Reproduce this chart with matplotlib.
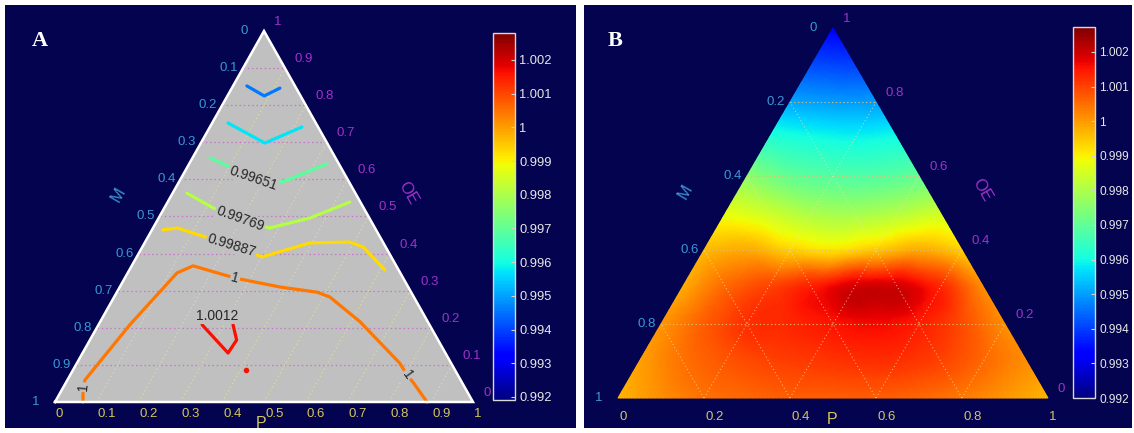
import numpy as np
import matplotlib.pyplot as plt
import matplotlib.tri as mtri
from matplotlib.colors import Normalize
from matplotlib.cm import ScalarMappable

plt.rcParams['font.family'] = ['Liberation Sans', 'DejaVu Sans']

NAVY = '#03034f'
P_COL = '#d2c65a'
M_COL = '#3c96d2'
OE_COL = '#a032c8'

# ---------------- panel A: contour lines ----------------
# each line is given as P and OE fractions along the curve
levels_a = [0.99415, 0.99533, 0.99651, 0.99769, 0.99887, 1.00005, 1.00123]
line_p = [
    [0.033, 0.088, 0.115],
    [0.038, 0.153, 0.220],
    [0.042, 0.108, 0.176, 0.247, 0.330],
    [0.034, 0.117, 0.198, 0.279, 0.362, 0.436],
    [0.026, 0.058, 0.130, 0.211, 0.300, 0.396, 0.490, 0.528, 0.611],
    [0.067, 0.056, 0.042, 0.075, 0.118, 0.147, 0.264, 0.383, 0.479, 0.516,
     0.622, 0.772, 0.806, 0.829, 0.890],
    [0.248, 0.348, 0.351, 0.322],
]
line_oe = [
    [0.852, 0.825, 0.846],
    [0.752, 0.698, 0.741],
    [0.658, 0.631, 0.604, 0.593, 0.642],
    [0.563, 0.523, 0.491, 0.469, 0.496, 0.539],
    [0.464, 0.469, 0.447, 0.423, 0.391, 0.429, 0.431, 0.418, 0.356],
    [0.000, 0.022, 0.059, 0.208, 0.348, 0.367, 0.334, 0.310, 0.296, 0.283,
     0.216, 0.105, 0.073, 0.054, 0.000],
    [0.208, 0.132, 0.167, 0.208],
]
# inline contour labels
label_text = ['0.99651', '0.99769', '0.99887', '1', '1', '1', '1.0012']
label_p = [0.172, 0.196, 0.211, 0.264, 0.047, 0.806, 0.272]
label_oe = [0.604, 0.493, 0.423, 0.334, 0.040, 0.073, 0.232]
label_rot = [-19, -20, -17, -15, 85, -55, 0]
# small closed contour (spot)
spot_p = [0.414]
spot_oe = [0.086]
spot_level = 1.00123

ticks_a = [0, 0.1, 0.2, 0.3, 0.4, 0.5, 0.6, 0.7, 0.8, 0.9, 1]
cbar_ticks = [0.992, 0.993, 0.994, 0.995, 0.996, 0.997, 0.998, 0.999, 1.0, 1.001, 1.002]
vmin_a, vmax_a = 0.99191, 1.0028

# ---------------- panel B: response surface on a ternary grid ----------------
grid_b = [0.0, 0.1, 0.2, 0.3, 0.4, 0.5, 0.6, 0.7, 0.8, 0.9, 1.0]
# row k -> OE = grid_b[k], entries for P = grid_b[0], grid_b[1], ...
field_rows = [
    [0.99970, 1.00013, 1.00045, 1.00056, 1.00067, 1.00067, 1.00067, 1.00056, 1.00035, 1.00003, 0.99970],
    [0.99992, 1.00045, 1.00077, 1.00099, 1.00110, 1.00120, 1.00120, 1.00099, 1.00056, 1.00013],
    [1.00003, 1.00067, 1.00120, 1.00131, 1.00152, 1.00163, 1.00142, 1.00088, 1.00013],
    [0.99981, 1.00056, 1.00099, 1.00142, 1.00195, 1.00195, 1.00131, 1.00013],
    [0.99960, 0.99981, 0.99938, 0.99917, 0.99949, 0.99981, 0.99938],
    [0.99874, 0.99842, 0.99799, 0.99789, 0.99810, 0.99842],
    [0.99756, 0.99703, 0.99682, 0.99682, 0.99703],
    [0.99628, 0.99607, 0.99596, 0.99607],
    [0.99510, 0.99500, 0.99500],
    [0.99414, 0.99403],
    [0.99328],
]
ticks_b = [0, 0.2, 0.4, 0.6, 0.8, 1]
vmin_b, vmax_b = 0.992, 1.00272


def tern_xy(p, oe):
    p = np.asarray(p, dtype=float)
    oe = np.asarray(oe, dtype=float)
    return p + oe / 2, oe


def frame_labels(ax, ticks, p_drop, title_pos):
    for v in ticks:
        s = f'{v:g}'
        ax.annotate(s, xy=(v, 0), xytext=(1, -p_drop), textcoords='offset pixels',
                    ha='left', va='center', color=P_COL, fontsize=9.5)
        m_off = -16 if v in (0, 1) else -5
        ax.annotate(s, xy=((1 - v) / 2, 1 - v), xytext=(m_off, 0), textcoords='offset pixels',
                    ha='right', va='center', color=M_COL, fontsize=9.5)
        ax.annotate(s, xy=(1 - v / 2, v), xytext=(10, 9), textcoords='offset pixels',
                    ha='left', va='center', color=OE_COL, fontsize=9.5)
    (px, py), (mx, my), (ox, oy) = title_pos
    ax.text(px, py, 'P', color=P_COL, fontsize=11.5, ha='center', va='center')
    ax.text(mx, my, 'M', color=M_COL, fontsize=12, ha='center', va='center', rotation=60)
    ax.text(ox, oy, 'OE', color=OE_COL, fontsize=12, ha='center', va='center', rotation=-60)


def bare(ax):
    ax.set_facecolor(NAVY)
    ax.set_xticks([])
    ax.set_yticks([])
    for s in ax.spines.values():
        s.set_visible(False)


def colorbar(fig, rect, norm, ticks, size):
    cax = fig.add_axes(rect)
    cb = fig.colorbar(ScalarMappable(norm=norm, cmap='jet'), cax=cax)
    cb.set_ticks(ticks)
    cb.set_ticklabels([f'{t:g}' for t in ticks])
    cb.outline.set_edgecolor('#d8d8d8')
    cb.outline.set_linewidth(1.0)
    cax.tick_params(colors='#d0d0d0', labelcolor='#e8e8e8', direction='in',
                    length=3, width=0.8, labelsize=size, pad=3)
    return cb


W, H = 1134, 433
fig = plt.figure(figsize=(W / 100, H / 100), dpi=100)
fig.patch.set_facecolor('white')

# ================= panel A =================
axA = fig.add_axes([5 / W, 5 / H, 571 / W, 423 / H])
bare(axA)
axA.set_xlim(-50 / 418, 521 / 418)
axA.set_ylim(-26 / 371, 397 / 371)
normA = Normalize(vmin_a, vmax_a)
# line colours as they appear in the printed figure (slightly warmer than the bar)
norm_lines = Normalize(0.9915, 1.0024)
cmap = plt.get_cmap('jet')

axA.fill([0, 1, 0.5], [0, 0, 1], color='#c0c0c0', zorder=1)
for v in ticks_a[1:-1]:
    axA.plot([v / 2, 1 - v / 2], [v, v], color='#c478c8', lw=0.9,
             ls=(0, (1.2, 2.2)), zorder=2)
    axA.plot([v, v + (1 - v) / 2], [0, 1 - v], color='#dcdca0', lw=0.8,
             ls=(0, (1.2, 2.5)), zorder=2)
axA.plot([0, 1, 0.5, 0], [0, 0, 1, 0], color='white', lw=1.8, zorder=5,
         solid_joinstyle='miter')

for lvl, ps, oes in zip(levels_a, line_p, line_oe):
    x, y = tern_xy(ps, oes)
    axA.plot(x, y, color=cmap(norm_lines(lvl)), lw=2.3, solid_capstyle='round',
             solid_joinstyle='round', zorder=3)
sx, sy = tern_xy(spot_p, spot_oe)
axA.plot(sx, sy, 'o', color=cmap(norm_lines(spot_level)), ms=4, mec='none', zorder=3)

for txt, p, oe, rot in zip(label_text, label_p, label_oe, label_rot):
    x, y = tern_xy(p, oe)
    axA.text(x, y, txt, rotation=rot, rotation_mode='anchor', ha='center', va='center',
             fontsize=10, color='#262626', zorder=4,
             bbox=dict(boxstyle='square,pad=0.08', fc='#c0c0c0', ec='none'))

frame_labels(axA, ticks_a, 12, ((0.492, -0.058), (0.151, 0.558), (0.844, 0.563)))
axA.text(0.061, 0.914, 'A', transform=axA.transAxes, family='Liberation Serif',
         weight='bold', fontsize=16, color='white', ha='center', va='center')
colorbar(fig, [493 / W, 33 / H, 22 / W, 367 / H], normA, cbar_ticks, 9.3)

# ================= panel B =================
axB = fig.add_axes([584 / W, 5 / H, 548 / W, 423 / H])
bare(axB)
axB.set_xlim(-34 / 430, 514 / 430)
axB.set_ylim(-30 / 370, 393 / 370)
normB = Normalize(vmin_b, vmax_b)

pts_p, pts_oe, vals = [], [], []
for k, row in enumerate(field_rows):
    for j, val in enumerate(row):
        pts_p.append(grid_b[j])
        pts_oe.append(grid_b[k])
        vals.append(val)
bx, by = tern_xy(pts_p, pts_oe)
tri = mtri.Triangulation(bx, by)
interp = mtri.CubicTriInterpolator(tri, np.array(vals), kind='geom')
refiner = mtri.UniformTriRefiner(tri)
tri_f, z_f = refiner.refine_field(np.array(vals), triinterpolator=interp, subdiv=4)
axB.tripcolor(tri_f, z_f, shading='gouraud', cmap='jet', norm=normB, zorder=1)

for v in ticks_b[1:-1]:
    axB.plot([v / 2, 1 - v / 2], [v, v], color='#e0c070', lw=0.8,
             ls=(0, (1.2, 2.2)), alpha=0.9, zorder=2)
    axB.plot([v, v + (1 - v) / 2], [0, 1 - v], color='#f0e4a8', lw=0.7,
             ls=(0, (1.2, 2.5)), alpha=0.7, zorder=2)
    axB.plot([1 - v, (1 - v) / 2], [0, 1 - v], color='#f0e4a8', lw=0.7,
             ls=(0, (1.2, 2.5)), alpha=0.7, zorder=2)

frame_labels(axB, ticks_b, 19, ((0.498, -0.059), (0.156, 0.557), (0.847, 0.562)))
axB.text(0.057, 0.914, 'B', transform=axB.transAxes, family='Liberation Serif',
         weight='bold', fontsize=16, color='white', ha='center', va='center')
colorbar(fig, [1073 / W, 35 / H, 22 / W, 371 / H], normB, cbar_ticks, 8.6)

fig.savefig('out.png', dpi=100, facecolor=fig.get_facecolor())
